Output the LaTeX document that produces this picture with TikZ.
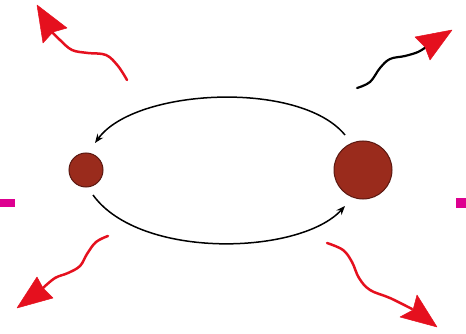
\documentclass[tikz,border=0pt]{standalone}
\usetikzlibrary{arrows.meta,calc}
\definecolor{ballfill}{HTML}{9A2B1C}
\definecolor{balledge}{HTML}{5A1810}
\definecolor{wavered}{HTML}{E5101E}
\definecolor{barmag}{HTML}{DD0090}
\tikzset{
  ball/.style={circle,fill=ballfill,draw=balledge,line width=1pt,inner sep=0pt},
  orbit/.style={line width=1.5pt,black,-{Stealth[length=9pt,width=7pt]}},
  wave/.style={line width=2.5pt,wavered,line cap=round},
  bwave/.style={line width=2.2pt,black,line cap=round},
  head/.style={fill=wavered,draw=wavered,line width=0.5pt,line join=round},
  bar/.style={fill=barmag,draw=none}
}
\begin{document}
\begin{tikzpicture}[x=1pt,y=-1pt]
\useasboundingbox (0,0) rectangle (466,334);
% balls
\node[ball,minimum size=34pt] (s) at (86,170) {};
\node[ball,minimum size=58pt] (b) at (363,170) {};
% magenta bars
\fill[bar] (0,199) rectangle (15,207);
\fill[bar] (456,198) rectangle (466,208);
% orbit endpoints
\coordinate (u1) at (345,135);
\coordinate (u2) at (95,143);
\coordinate (l1) at (93,195);
\coordinate (l2) at (345,206);
\draw[orbit] (u1) .. controls (300,80) and (135,88) .. (u2);
\draw[orbit] (l1) .. controls (140,260) and (300,255) .. (l2);
% top-left wave
\draw[wave] plot[smooth,tension=0.6] coordinates {(127,80) (118,66) (106,55) (88,53) (72,50) (60,40) (52,32)};
\coordinate (h1) at (37,5);
\fill[head] (h1) -- (67,28) -- (53,32) -- (43,43) -- cycle;
% top-right wave
\draw[bwave] plot[smooth,tension=0.6] coordinates {(357,88) (370,82) (380,68) (390,59) (405,56) (418,52) (426,47)};
\coordinate (h2) at (452,30);
\fill[head] (h2) -- (415,37) -- (425,47) -- (430,60) -- cycle;
% bottom-left wave
\draw[wave] plot[smooth,tension=0.6] coordinates {(108,236) (96,242) (87,254) (80,266) (68,273) (55,278) (43,288)};
\coordinate (h3) at (17,308);
\fill[head] (h3) -- (37,277) -- (43,288) -- (53,298) -- cycle;
% bottom-right wave
\draw[wave] plot[smooth,tension=0.6] coordinates {(327,243) (343,250) (352,262) (359,278) (370,290) (390,298) (412,309)};
\coordinate (h4) at (437,327);
\fill[head] (h4) -- (417,295) -- (413,310) -- (400,317) -- cycle;
\end{tikzpicture}
\end{document}
